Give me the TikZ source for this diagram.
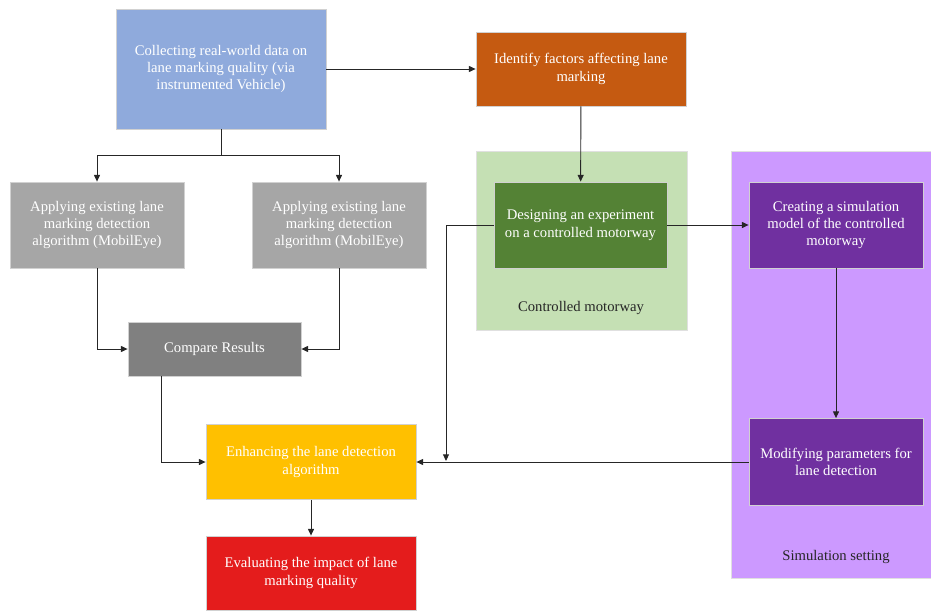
\documentclass[tikz,border=0pt]{standalone}
\usepackage{fontspec}
\setmainfont{Liberation Serif}
\usetikzlibrary{arrows.meta}
\definecolor{cblue}{HTML}{8FAADC}
\definecolor{cgray}{HTML}{A6A6A6}
\definecolor{cdark}{HTML}{808080}
\definecolor{cyellow}{HTML}{FFC000}
\definecolor{cred}{HTML}{E41C1C}
\definecolor{corange}{HTML}{C55A11}
\definecolor{clgreen}{HTML}{C5E0B4}
\definecolor{cgreen}{HTML}{548235}
\definecolor{clpurple}{HTML}{CC99FF}
\definecolor{cpurple}{HTML}{7030A0}
\begin{document}
\begin{tikzpicture}[x=0.75pt,y=-0.75pt]
		\tikzstyle{every node}+=[inner sep=0pt, font=\fontsize{11}{13.1}\selectfont]
		\tikzstyle{box}=[draw=black!18, line width=0.6pt, text=white, align=center]
		\tikzstyle{area}=[draw=black!12, line width=0.5pt]
		\tikzstyle{arr}=[draw=black!85, line width=0.7pt, -{Triangle[length=5pt,width=4.5pt]}]
		\useasboundingbox (0,0) rectangle (931,610);
		% grouping areas
		\node [area, fill=clgreen, minimum width=211*0.75pt, minimum height=179*0.75pt] (ctrlarea) at (581.5,240.5) {};
		\node [text=black!85] (ctrllabel) at (581,308) {Controlled motorway};
		\node [area, fill=clpurple, minimum width=200*0.75pt, minimum height=427*0.75pt] (simarea) at (831,364.5) {};
		\node [text=black!85] (simlabel) at (836,557) {Simulation setting};
		% boxes
		\node [box, fill=cblue, minimum width=210*0.75pt, minimum height=120*0.75pt] (collect) at (221,69) {Collecting real-world data on\\lane marking quality (via\\instrumented Vehicle)};
		\node [box, fill=cgray, minimum width=174*0.75pt, minimum height=86*0.75pt] (applyL) at (97,225) {Applying existing lane\\marking detection\\algorithm (MobilEye)};
		\node [box, fill=cgray, minimum width=174*0.75pt, minimum height=86*0.75pt] (applyR) at (339,225) {Applying existing lane\\marking detection\\algorithm (MobilEye)};
		\node [box, fill=cdark, minimum width=173*0.75pt, minimum height=54*0.75pt] (compare) at (214.5,349) {Compare Results};
		\node [box, fill=cyellow, minimum width=210*0.75pt, minimum height=75*0.75pt] (enhance) at (311,462) {Enhancing the lane detection\\algorithm};
		\node [box, fill=cred, minimum width=210*0.75pt, minimum height=74*0.75pt] (evaluate) at (311,573) {Evaluating the impact of lane\\marking quality};
		\node [box, fill=corange, minimum width=210*0.75pt, minimum height=74*0.75pt] (identify) at (581,69) {Identify factors affecting lane\\marking};
		\node [box, fill=cgreen, minimum width=173*0.75pt, minimum height=86*0.75pt] (design) at (580.5,225) {Designing an experiment\\on a controlled motorway};
		\node [box, fill=cpurple, minimum width=174*0.75pt, minimum height=86*0.75pt] (create) at (836,225) {Creating a simulation\\model of the controlled\\motorway};
		\node [box, fill=cpurple, minimum width=174*0.75pt, minimum height=87*0.75pt] (modify) at (836,462) {Modifying parameters for\\lane detection};
		% connectors
		\draw [draw=black!85, line width=0.7pt] (collect.south) -- ++(0,26) coordinate (split);
		\draw [arr] (split) -| (applyL.north);
		\draw [arr] (split) -| (applyR.north);
		\draw [arr] (applyL.south) |- (compare.west);
		\draw [arr] (applyR.south) |- (compare.east);
		\draw [arr] ([xshift=-40pt]compare.south) |- (enhance.west);
		\draw [arr] (enhance) -- (evaluate);
		\draw [arr] (collect) -- (identify);
		\draw [arr] (identify) -- (design);
		\draw [arr] (design) -- (create);
		\draw [arr] (create) -- (modify);
		\draw [arr] (modify) -- (enhance);
		\coordinate (join) at (446,461);
		\draw [arr] (design.west) -| (join);
	\end{tikzpicture}
\end{document}
